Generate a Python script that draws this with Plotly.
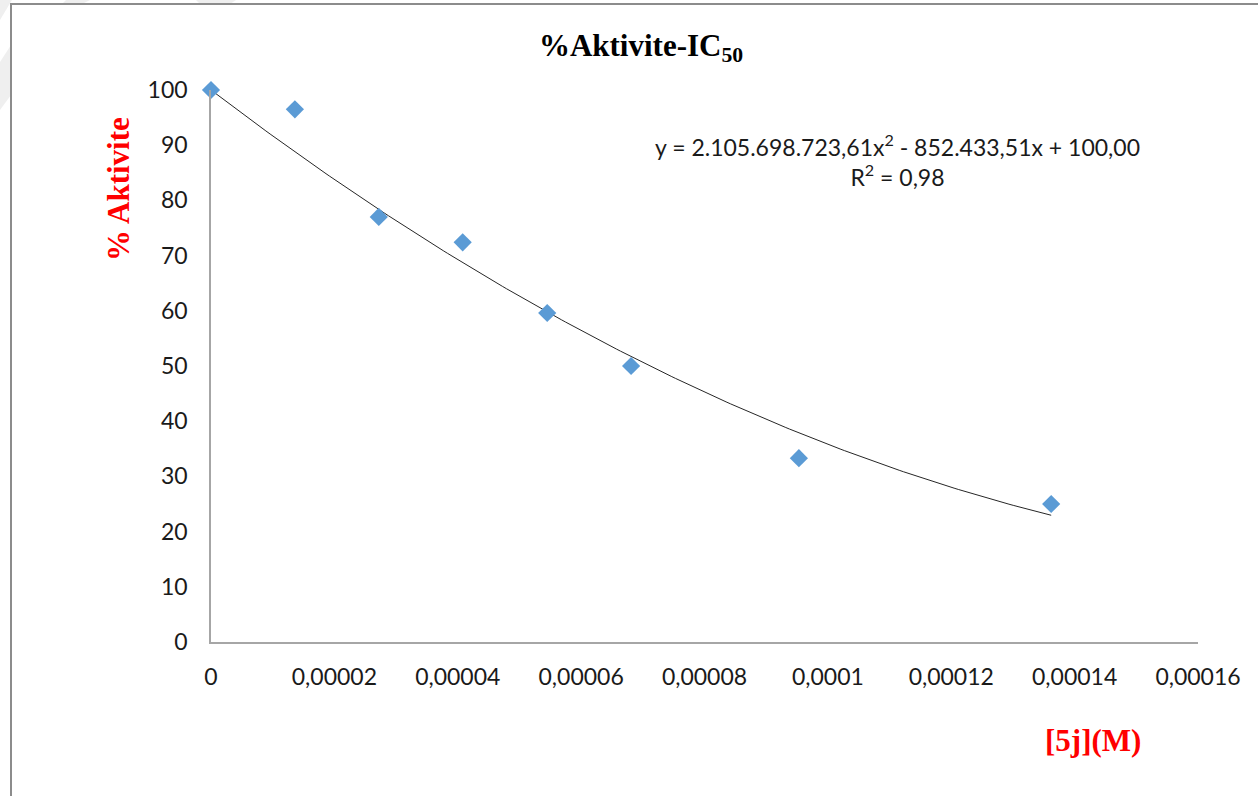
import numpy as np
import plotly.graph_objects as go

# Measured activity versus inhibitor concentration
conc_M = [0.0, 1.36e-5, 2.72e-5, 4.08e-5, 5.45e-5, 6.81e-5, 9.53e-5, 1.362e-4]
activity_pct = [100.0, 96.5, 77.0, 72.4, 59.6, 50.0, 33.3, 25.0]

# Polynomial trendline coefficients (a*x^2 + b*x + c) and its R^2
trend_coef = [2105698723.61, -852433.51, 100.00]
r_squared = 0.98

x_ticks = [0, 0.00002, 0.00004, 0.00006, 0.00008, 0.0001, 0.00012, 0.00014, 0.00016]
x_tick_text = ["0", "0,00002", "0,00004", "0,00006", "0,00008", "0,0001", "0,00012", "0,00014", "0,00016"]
y_ticks = [0, 10, 20, 30, 40, 50, 60, 70, 80, 90, 100]

W, H = 1258, 796
ML, MR, MT, MB = 211, 60, 90, 154
PW, PH = W - ML - MR, H - MT - MB


def px(x):
    return (x - ML) / PW


def py(y):
    return (H - MB - y) / PH


xs = np.linspace(0, max(conc_M), 200)
ys = np.polyval(trend_coef, xs)

fig = go.Figure()
fig.add_trace(go.Scatter(
    x=xs, y=ys, mode="lines",
    line=dict(color="#262626", width=1),
    hoverinfo="skip", showlegend=False,
))
fig.add_trace(go.Scatter(
    x=conc_M, y=activity_pct, mode="markers",
    marker=dict(symbol="diamond", size=14, color="#5B9BD5", line=dict(width=0)),
    cliponaxis=False, showlegend=False,
))

axis_font = dict(family="Lato, Carlito, sans-serif", size=23, color="#1a1a1a")
fig.update_xaxes(
    range=[0, 0.00016], tickvals=x_ticks, ticktext=x_tick_text,
    showgrid=False, zeroline=False, showline=True, linecolor="#A6A6A6", linewidth=1.5,
    ticks="", tickfont=axis_font, ticklabelstandoff=14,
)
fig.update_yaxes(
    range=[0, 100], tickvals=y_ticks,
    showgrid=False, zeroline=False, showline=True, linecolor="#A6A6A6", linewidth=1.5,
    ticks="", tickfont=axis_font, ticklabelstandoff=17,
)

serif_bold = dict(family="Liberation Serif, Times New Roman, serif", size=31)

fig.update_layout(
    width=W, height=H,
    margin=dict(l=ML, r=MR, t=MT, b=MB),
    paper_bgcolor="white", plot_bgcolor="white",
    title=dict(
        text="<b>%Aktivite-IC<sub>50</sub></b>",
        x=641 / W, xanchor="center", y=1 - 45 / H, yanchor="middle",
        font=dict(color="black", **serif_bold),
    ),
)

r2_text = f"{r_squared:.2f}".replace(".", ",")
eq_text = (
    "y = 2.105.698.723,61x<sup>2</sup> - 852.433,51x + 100,00"
    f"<br>R<sup>2</sup> = {r2_text}"
)
fig.add_annotation(
    text=eq_text, xref="paper", yref="paper", x=px(897), y=py(160),
    xanchor="center", yanchor="middle", showarrow=False, align="center",
    font=dict(family="Lato, Carlito, sans-serif", size=23, color="#1a1a1a"),
)
fig.add_annotation(
    text="<b>% Aktivite</b>", xref="paper", yref="paper", x=px(118), y=py(189),
    xanchor="center", yanchor="middle", textangle=-90, showarrow=False,
    font=dict(color="#FF0000", **serif_bold),
)
fig.add_annotation(
    text="<b>[5j](M)</b>", xref="paper", yref="paper", x=px(1093), y=py(740),
    xanchor="center", yanchor="middle", showarrow=False,
    font=dict(color="#FF0000", **serif_bold),
)

# faint background stripes in the top-left corner
for poly in [
    [(0, 0), (12, 0), (0, 20)],
    [(0, 62), (11, 45), (11, 95), (0, 110)],
    [(66, 0), (90, 0), (82, 4), (62, 4)],
    [(196, 0), (236, 0), (230, 4), (200, 4)],
]:
    path = "M " + " L ".join(f"{px(a)},{py(b)}" for a, b in poly) + " Z"
    fig.add_shape(type="path", path=path, xref="paper", yref="paper",
                  fillcolor="#EFEFEF", line=dict(width=0), layer="below")

# chart frame (left and top edges)
fig.add_shape(type="line", xref="paper", yref="paper",
              x0=px(11), y0=py(4), x1=px(11), y1=py(H + 5),
              line=dict(color="#8C8C8C", width=2))
fig.add_shape(type="line", xref="paper", yref="paper",
              x0=px(10), y0=py(4), x1=px(W + 5), y1=py(4),
              line=dict(color="#8C8C8C", width=2))

fig.write_html("out.html")
